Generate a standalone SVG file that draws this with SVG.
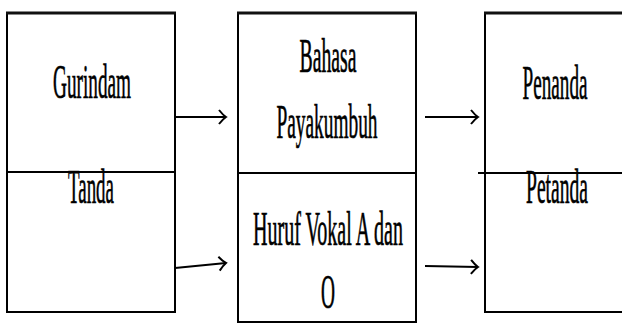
<svg xmlns="http://www.w3.org/2000/svg" width="622" height="324" viewBox="0 0 622 324">
<defs>
<style>
.box{fill:#fff;stroke:#000;stroke-width:2}
.top{stroke:#111;stroke-width:3}
.div{stroke:#000;stroke-width:2}
.t{font-family:"Liberation Serif","Times New Roman",serif;font-size:48px;fill:#000;stroke:#000;stroke-width:0.7;text-anchor:middle}
.c{stroke:#000;stroke-width:2;fill:none}
</style>
<marker id="ah" markerUnits="userSpaceOnUse" markerWidth="12" markerHeight="18" refX="9" refY="9" orient="auto">
<path d="M2,2 Q6,7 9,9 Q6,11 2,16" fill="none" stroke="#000" stroke-width="2"/>
</marker>
</defs>
<rect width="622" height="324" fill="#fff"/>
<g id="node-left">
<rect class="box" x="7" y="13" width="168" height="299"/>
<line class="top" x1="6" y1="13" x2="176" y2="13"/>
<line class="div" x1="7" y1="172" x2="175" y2="172" stroke="#444"/>
<text class="t" x="92" y="98" textLength="78" lengthAdjust="spacingAndGlyphs">Gurindam</text>
<text class="t" x="91" y="203" textLength="46" lengthAdjust="spacingAndGlyphs">Tanda</text>
</g>
<g id="node-middle">
<rect class="box" x="238" y="13" width="178" height="309"/>
<line class="top" x1="237" y1="13" x2="417" y2="13"/>
<line class="div" x1="238" y1="173" x2="416" y2="173"/>
<text class="t" x="328" y="72" textLength="57" lengthAdjust="spacingAndGlyphs">Bahasa</text>
<text class="t" x="327" y="138" textLength="101" lengthAdjust="spacingAndGlyphs">Payakumbuh</text>
<text class="t" x="328" y="245" textLength="150" lengthAdjust="spacingAndGlyphs">Huruf Vokal A dan</text>
<text class="t" x="328" y="308" textLength="14" lengthAdjust="spacingAndGlyphs">O</text>
</g>
<g id="node-right">
<rect class="box" x="485" y="13" width="150" height="299"/>
<line class="top" x1="484" y1="13" x2="622" y2="13"/>
<line class="div" x1="478" y1="173" x2="622" y2="173"/>
<text class="t" x="555" y="99" textLength="65" lengthAdjust="spacingAndGlyphs">Penanda</text>
<text class="t" x="557" y="203" textLength="62" lengthAdjust="spacingAndGlyphs">Petanda</text>
</g>
<g id="connectors">
<line class="c" x1="175" y1="117" x2="226" y2="117" marker-end="url(#ah)"/>
<line class="c" x1="175" y1="268" x2="226" y2="263" marker-end="url(#ah)"/>
<line class="c" x1="425" y1="117" x2="478" y2="117" marker-end="url(#ah)"/>
<line class="c" x1="425" y1="266" x2="478" y2="267" marker-end="url(#ah)"/>
</g>
</svg>
